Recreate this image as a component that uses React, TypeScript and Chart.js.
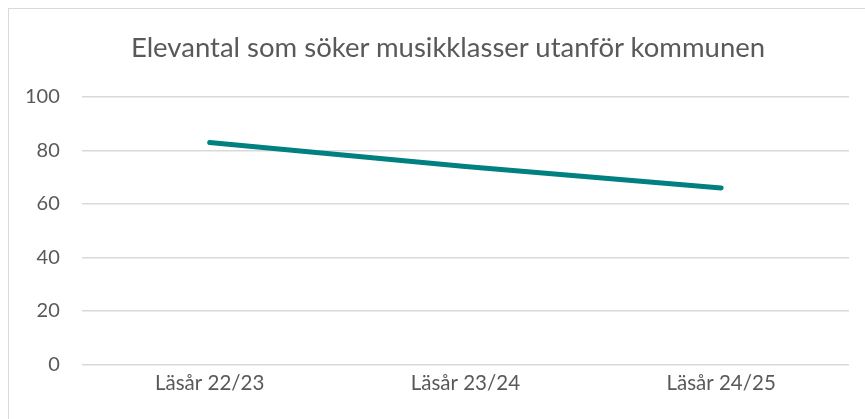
import React, { useEffect, useRef } from "react";
import { Chart, registerables } from "chart.js";

Chart.register(...registerables);

const titleText = "Elevantal som söker musikklasser utanför kommunen";
const categories = ["Läsår 22/23", "Läsår 23/24", "Läsår 24/25"];
const values = [83, 74, 66];
const yTicks = [0, 20, 40, 60, 80, 100];

const textColor = "#595959";
const gridColor = "#d9d9d9";
const lineColor = "#008080";

export default function App() {
  const ref = useRef<HTMLCanvasElement | null>(null);

  useEffect(() => {
    document.body.style.overflow = "hidden";
    const ctx = ref.current;
    if (!ctx) return;
    const chart = new Chart(ctx, {
      type: "line",
      data: {
        labels: categories,
        datasets: [
          {
            data: values,
            borderColor: lineColor,
            backgroundColor: lineColor,
            borderWidth: 5,
            borderCapStyle: "round",
            pointRadius: 0,
            tension: 0,
          },
        ],
      },
      options: {
        animation: false,
        responsive: false,
        maintainAspectRatio: false,
        layout: { padding: { left: 3, right: 16, top: 97, bottom: 16 } },
        plugins: {
          legend: { display: false },
          tooltip: { enabled: false },
          title: { display: false },
        },
        scales: {
          x: {
            offset: true,
            grid: { display: false, offset: true, drawTicks: false },
            border: { display: false },
            ticks: {
              color: textColor,
              font: { family: "Lato", size: 20.5 },
              padding: 7,
              maxRotation: 0,
            },
          },
          y: {
            min: 0,
            max: 100,
            afterBuildTicks: (axis: any) => {
              axis.ticks = yTicks.map((v) => ({ value: v }));
            },
            grid: { color: gridColor, lineWidth: 1.5, drawTicks: false },
            border: { display: false },
            ticks: {
              color: textColor,
              font: { family: "Lato", size: 20 },
              padding: 22,
            },
          },
        },
      },
    });
    return () => chart.destroy();
  }, []);

  return (
    <>
      <div
        style={{
          position: "fixed",
          left: 8,
          top: 8,
          width: 880,
          height: 440,
          border: "1.5px solid #d9d9d9",
          boxSizing: "border-box",
        }}
      />
      <canvas
        ref={ref}
        width={865}
        height={419}
        style={{ position: "fixed", left: 0, top: 0, width: 865, height: 419 }}
      />
      <div
        style={{
          position: "fixed",
          left: 0,
          top: 30,
          width: 896,
          textAlign: "center",
          fontFamily: "Lato",
          fontSize: "27.5px",
          lineHeight: "33px",
          color: textColor,
          whiteSpace: "nowrap",
        }}
      >
        {titleText}
      </div>
    </>
  );
}
